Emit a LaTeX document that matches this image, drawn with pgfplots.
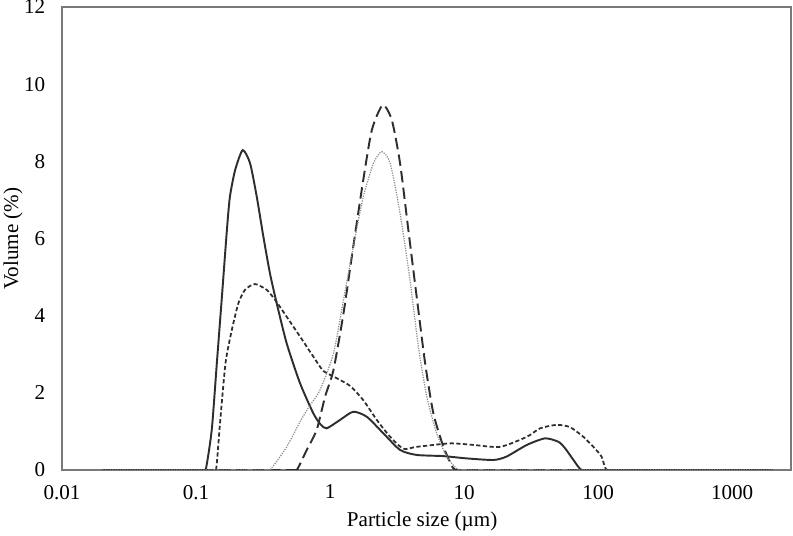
\documentclass[border=0pt]{standalone}
\usepackage{pgfplots}
\pgfplotsset{compat=1.18}
\usepackage{pgfplotstable}
\usepackage{fontspec}
\setmainfont{Liberation Serif}

\definecolor{axgray}{HTML}{7A7A7A}
\definecolor{ink}{HTML}{2E2E2E}
\definecolor{dotgray}{HTML}{8C8C8C}

% sample A, solid
\pgfplotstableread{
x y
0.02 0
0.110 0
0.118 0
0.131 1.04
0.143 2.77
0.156 4.49
0.170 6.22
0.179 7.08
0.196 7.78
0.223 8.29
0.253 7.95
0.284 7.08
0.318 6.05
0.356 5.10
0.400 4.32
0.475 3.28
0.597 2.25
0.750 1.47
0.850 1.18
0.944 1.08
1.19 1.30
1.49 1.51
1.88 1.38
2.50 0.95
3.33 0.52
4.43 0.39
7.0 0.36
10.5 0.30
16.6 0.26
20.8 0.35
29.4 0.65
40.2 0.82
50.6 0.73
56.8 0.56
65.5 0.26
75.5 0
100 0
2000 0
}\sampleA

% sample B, short dashes
\pgfplotstableread{
x y
0.02 0
0.130 0
0.141 0
0.151 1.21
0.166 2.77
0.185 3.63
0.207 4.32
0.232 4.67
0.275 4.82
0.336 4.67
0.389 4.41
0.475 3.97
0.597 3.46
0.750 2.94
0.891 2.57
1.12 2.38
1.41 2.18
1.77 1.81
2.23 1.30
2.81 0.86
3.53 0.55
4.43 0.60
7.87 0.69
11.7 0.65
18.6 0.60
29.4 0.86
36.9 1.08
49.2 1.17
61.8 1.11
77.6 0.86
92.2 0.60
106 0.35
116 0
150 0
2000 0
}\sampleB

% sample C, long dashes
\pgfplotstableread{
x y
0.02 0
0.50 0
0.564 0
0.670 0.52
0.795 1.04
0.918 1.90
1.06 2.59
1.26 4.06
1.49 5.79
1.77 7.52
2.05 8.81
2.47 9.46
2.89 9.07
3.33 7.95
3.84 6.22
4.43 4.49
5.12 2.77
5.90 1.47
7.02 0.60
8.32 0.04
9.5 0
20 0
2000 0
}\sampleC

% sample D, dotted
\pgfplotstableread{
x y
0.02 0
0.32 0
0.356 0
0.475 0.60
0.597 1.25
0.700 1.65
0.841 2.07
1.06 3.02
1.26 4.41
1.49 5.79
1.77 7.08
2.11 7.95
2.43 8.25
2.81 7.95
3.33 6.65
3.95 4.92
4.56 3.20
5.27 1.90
6.25 0.95
7.43 0.35
8.8 0.04
10 0
20 0
2000 0
}\sampleD

\begin{document}
\begin{tikzpicture}
\begin{semilogxaxis}[
    scale only axis,
    width=14.58cm, height=9.26cm,
    xmin=0.01, xmax=2750,
    ymin=0, ymax=12,
    xtick={0.01,0.1,1,10,100,1000},
    xticklabels={0.01,0.1,1,10,100,1000},
    ytick={0,2,4,6,8,10,12},
    xminorticks=false, yminorticks=false,
    tick style={draw=none},
    major tick length=0pt,
    axis line style={axgray, line width=0.9pt},
    /pgf/number format/assume math mode=true,
    tick label style={font=\fontsize{12}{14}\selectfont, black},
    xticklabel style={yshift=-5pt},
    yticklabel style={xshift=-6pt},
    label style={font=\fontsize{12}{14}\selectfont},
    xlabel={Particle size (µm)},
    ylabel={Volume (\%)},
    xlabel style={at={(axis description cs:0.494,-0.112)}, anchor=center},
    ylabel style={at={(axis description cs:-0.067,0.50)}, anchor=center, rotate=0},
    clip=true,
]
\addplot[ink, line width=1.1pt, smooth, tension=0.4] table {\sampleA};
\addplot[ink, line width=1.0pt, smooth, tension=0.4, dash pattern=on 2.4pt off 1.4pt] table {\sampleB};
\addplot[ink, line width=1.1pt, smooth, tension=0.4, dash pattern=on 6.5pt off 3pt] table {\sampleC};
\addplot[dotgray, line width=0.7pt, smooth, tension=0.4, dash pattern=on 0.7pt off 0.7pt] table {\sampleD};
\end{semilogxaxis}
\pgfresetboundingbox
\path[use as bounding box] ([shift={(-1.24cm,-1.32cm)}]current axis.south west) rectangle ([shift={(0.04cm,0.14cm)}]current axis.north east);
\end{tikzpicture}
\end{document}
